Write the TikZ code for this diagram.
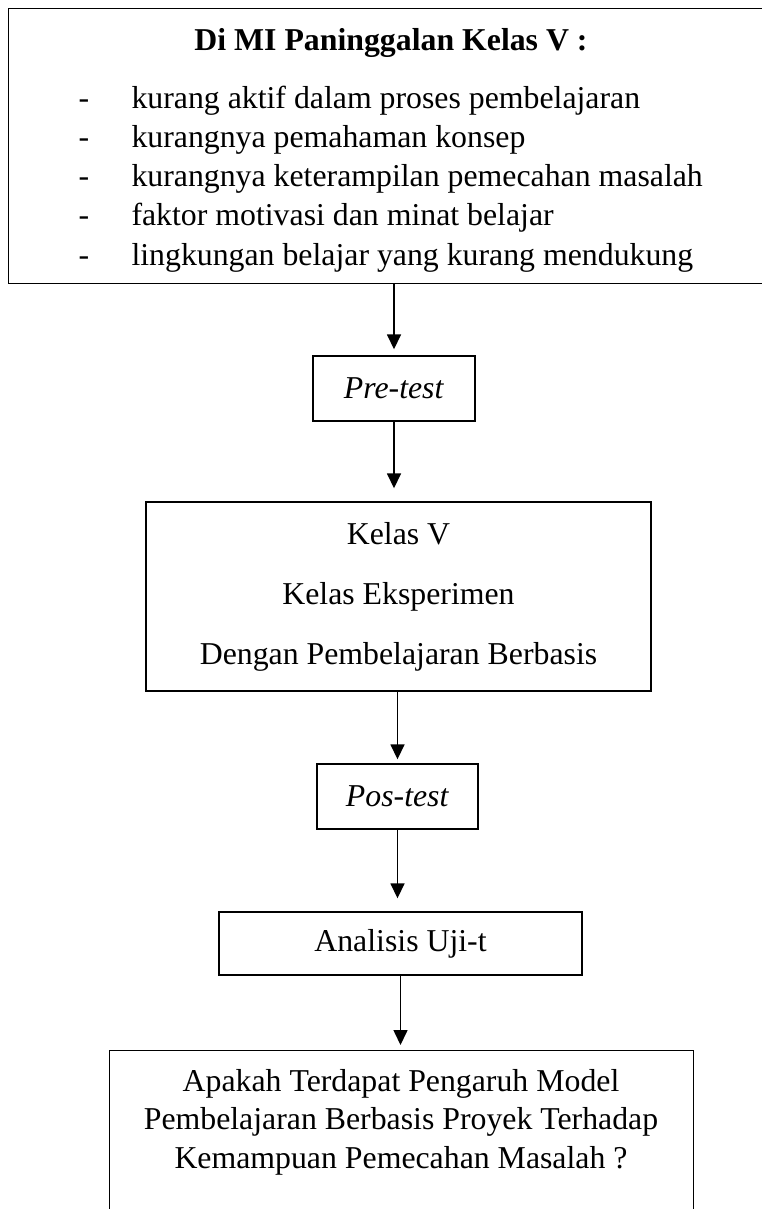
\documentclass[tikz,border=0pt]{standalone}
\usepackage{fontspec}
\setmainfont{Liberation Serif}
\usetikzlibrary{arrows.meta,positioning,calc}
\tikzstyle{box}=[draw, line width=1.4pt, inner sep=0pt]
\tikzstyle{line}=[-{Triangle[width=14pt,length=15pt]}, line width=1.6pt]

\begin{document}
\begin{tikzpicture}[x=1pt,y=-1pt,every node/.style={font=\fontsize{31.8}{38}\selectfont}]
\useasboundingbox (0,0) rectangle (761,1209);

% kotak permasalahan
\node (masalah) at (8,8)[box,anchor=north west,minimum width=780pt,minimum height=275pt] {};
\node (judul) at (391,51)[anchor=base] {\bfseries Di MI Paninggalan Kelas V :};
\foreach \t [count=\i] in {kurang aktif dalam proses pembelajaran,
    kurangnya pemahaman konsep,
    kurangnya keterampilan pemecahan masalah,
    faktor motivasi dan minat belajar,
    lingkungan belajar yang kurang mendukung}
{
  \node (strip\i) at (84,69+39.2*\i)[anchor=base] {-};
  \node (butir\i) at (128,69+39.2*\i)[anchor=base west] {\t};
}

% alur
\node (pre) at (394,388.5)[box,minimum width=162pt,minimum height=65pt] {\textit{Pre-test}};
\node (kelas) at (398.5,596.5)[box,minimum width=505pt,minimum height=189pt,align=center,
  font=\fontsize{31.8}{60}\selectfont] {Kelas V\\Kelas Eksperimen\\Dengan Pembelajaran Berbasis};
\node (pos) at (397.5,796.5)[box,minimum width=161pt,minimum height=65pt] {\textit{Pos-test}};
\node (uji) at (400.5,943.5)[box,minimum width=363pt,minimum height=63pt] {Analisis Uji-t};

% kotak pertanyaan
\node (hasil) at (109,1050)[box,anchor=north west,minimum width=584pt,minimum height=200pt] {};
\foreach \t [count=\i] in {Apakah Terdapat Pengaruh Model,
    Pembelajaran Berbasis Proyek Terhadap,
    Kemampuan Pemecahan Masalah ?}
{
  \node (tanya\i) at (401,1052.5+38.5*\i)[anchor=base] {\t};
}

\draw[line,shorten >=6pt] (masalah.south -| pre.north) -- (pre.north);
\draw[line,shorten >=13pt] (pre.south) -- (pre.south |- kelas.north);
\draw[line,shorten >=4pt] (kelas.south -| pos.north) -- (pos.north);
\draw[line,shorten >=13pt] (pos.south) -- (pos.south |- uji.north);
\draw[line,shorten >=5pt] (uji.south) -- (uji.south |- hasil.north);
\end{tikzpicture}
\end{document}
